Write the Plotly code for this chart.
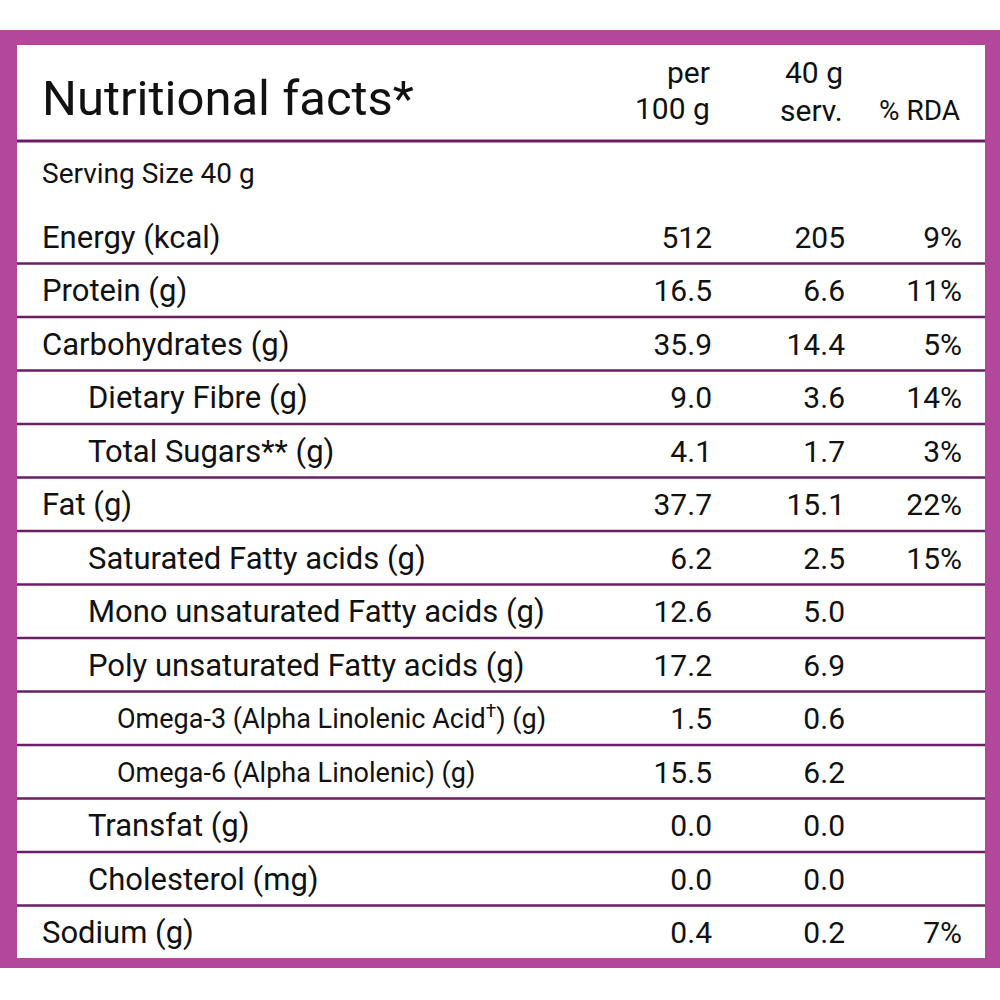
import plotly.graph_objects as go

# ---------------- data ----------------
title = "Nutritional facts*"
serving_text = "Serving Size 40 g"
col_headers = [["per", "100 g"], ["40 g", "serv."], ["% RDA"]]

labels = [
    "Energy (kcal)", "Protein (g)", "Carbohydrates (g)", "Dietary Fibre (g)",
    "Total Sugars** (g)", "Fat (g)", "Saturated Fatty acids (g)",
    "Mono unsaturated Fatty acids (g)", "Poly unsaturated Fatty acids (g)",
    "Omega-3 (Alpha Linolenic Acid<sup>†</sup>) (g)", "Omega-6 (Alpha Linolenic) (g)",
    "Transfat (g)", "Cholesterol (mg)", "Sodium (g)",
]
indent = [0, 0, 0, 1, 1, 0, 1, 1, 1, 2, 2, 1, 1, 0]
per_100g = [512, 16.5, 35.9, 9.0, 4.1, 37.7, 6.2, 12.6, 17.2, 1.5, 15.5, 0.0, 0.0, 0.4]
per_serving = [205, 6.6, 14.4, 3.6, 1.7, 15.1, 2.5, 5.0, 6.9, 0.6, 6.2, 0.0, 0.0, 0.2]
rda_pct = [9, 11, 5, 14, 3, 22, 15, None, None, None, None, None, None, 7]

# ---------------- layout parameters ----------------
FONT = "Roboto"
BORDER = "#b3479b"
LINE = "#6a1e66"
ROW0 = 240.0
PITCH = 53.5
INDENT_X = [42, 88, 117]
LABEL_SIZE = [31, 31, 27]
NUM_SIZE = 30
COL_X = [712, 845, 962]
TXT = "#111111"


def fmt(v, i):
    return f"{v:.0f}" if i == 0 else f"{v:.1f}"


rows_y = [ROW0 + PITCH * i for i in range(len(labels))]

fig = go.Figure()

# labels
fig.add_trace(go.Scatter(
    x=[INDENT_X[l] for l in indent], y=rows_y, mode="text",
    text=labels, textposition="middle right",
    textfont=dict(family=FONT, size=[LABEL_SIZE[l] for l in indent], color=TXT),
    hoverinfo="skip", showlegend=False,
))
# numeric columns
fig.add_trace(go.Scatter(
    x=[COL_X[0]] * len(per_100g), y=rows_y, mode="text",
    text=[fmt(v, i) for i, v in enumerate(per_100g)], textposition="middle left",
    textfont=dict(family=FONT, size=NUM_SIZE, color=TXT), hoverinfo="skip", showlegend=False,
))
fig.add_trace(go.Scatter(
    x=[COL_X[1]] * len(per_serving), y=rows_y, mode="text",
    text=[fmt(v, i) for i, v in enumerate(per_serving)], textposition="middle left",
    textfont=dict(family=FONT, size=NUM_SIZE, color=TXT), hoverinfo="skip", showlegend=False,
))
rda_idx = [i for i, v in enumerate(rda_pct) if v is not None]
fig.add_trace(go.Scatter(
    x=[COL_X[2]] * len(rda_idx), y=[rows_y[i] for i in rda_idx], mode="text",
    text=[f"{rda_pct[i]}%" for i in rda_idx], textposition="middle left",
    textfont=dict(family=FONT, size=NUM_SIZE, color=TXT), hoverinfo="skip", showlegend=False,
))

annotations = [
    dict(x=40, y=98, text=title, xanchor="left", yanchor="middle", showarrow=False,
         font=dict(family=FONT, size=49, color=TXT)),
    dict(x=40, y=173, text=serving_text, xanchor="left", yanchor="middle", showarrow=False,
         font=dict(family=FONT, size=28, color=TXT)),
]
header_y = [[72, 108], [72, 110], [110]]
header_size = [[30, 30], [30, 30], [28]]
for cx, lines, ys, ss in zip(COL_X, col_headers, header_y, header_size):
    for t, yy, s in zip(lines, ys, ss):
        annotations.append(dict(x=cx, y=yy, text=t, xanchor="right", yanchor="middle",
                                showarrow=False, font=dict(family=FONT, size=s, color=TXT)))

shapes = [
    dict(type="rect", x0=0, x1=1000, y0=30, y1=968, fillcolor=BORDER, line=dict(width=0), layer="below"),
    dict(type="rect", x0=17, x1=985, y0=45, y1=958, fillcolor="white", line=dict(width=0), layer="below"),
    dict(type="line", x0=17, x1=985, y0=141, y1=141, line=dict(color=LINE, width=3)),
]
for yy in rows_y[:-1]:
    shapes.append(dict(type="line", x0=17, x1=985, y0=yy + 23.5, y1=yy + 23.5,
                       line=dict(color=LINE, width=2.5)))

fig.update_layout(
    width=1000, height=1000,
    margin=dict(l=0, r=0, t=0, b=0),
    paper_bgcolor="white", plot_bgcolor="white",
    xaxis=dict(range=[0, 1000], visible=False, fixedrange=True),
    yaxis=dict(range=[1000, 0], visible=False, fixedrange=True),
    shapes=shapes, annotations=annotations,
)

fig.write_html("out.html", config={"displayModeBar": False},
               post_script="document.body.style.margin='0';")
